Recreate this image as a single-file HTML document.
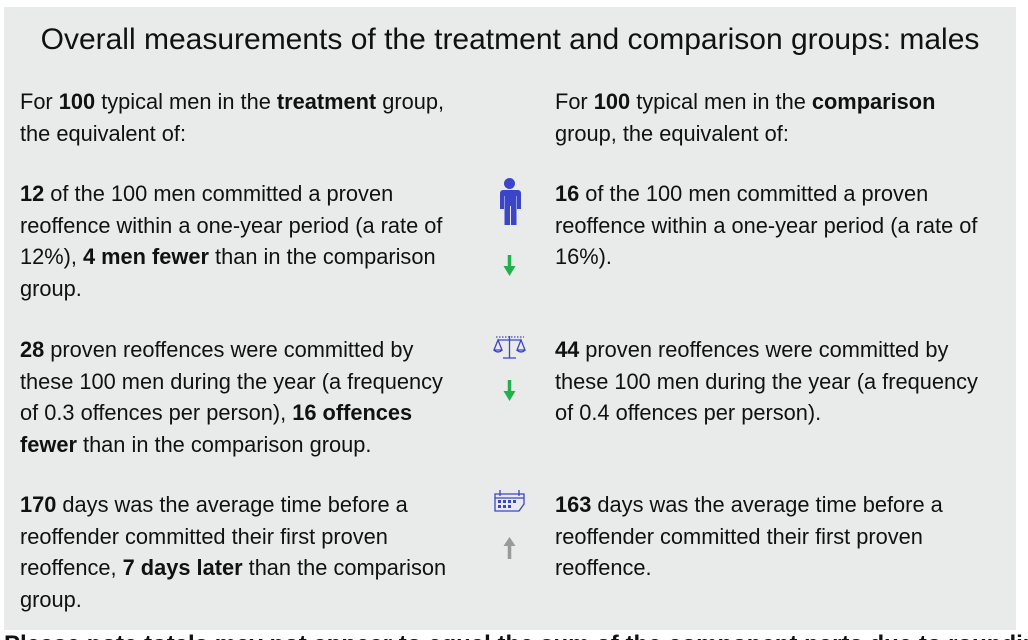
<!DOCTYPE html>
<html><head><style>
html,body{margin:0;width:1028px;height:640px;overflow:hidden}
body{background:#fff;font-family:"Liberation Sans",Arial,sans-serif;color:#111;position:relative}
.panel{position:absolute;left:4px;top:7px;width:1012px;height:623px;background:#e8ebea}
h1{position:absolute;left:4px;width:1012px;top:21px;margin:0;font-weight:normal;font-size:30px;text-align:center;line-height:38px;color:#111}
.t{position:absolute;font-size:21.8px;line-height:31.6px;width:434px}
b{font-weight:bold}
.ic{position:absolute}
.note{position:absolute;left:4px;top:631px;font-size:24px;font-weight:bold;white-space:nowrap;line-height:28px}
</style></head><body>
<div class="panel"></div>
<h1>Overall measurements of the treatment and comparison groups: males</h1>
<div class="t" style="left:20px;top:86px">For <b>100</b> typical men in the <b>treatment</b> group, the equivalent of:</div>
<div class="t" style="left:555px;top:86px;width:400px">For <b>100</b> typical men in the <b>comparison</b> group, the equivalent of:</div>
<div class="t" style="left:20px;top:178px"><b>12</b> of the 100 men committed a proven reoffence within a one-year period (a rate of 12%), <b>4 men fewer</b> than in the comparison group.</div>
<div class="t" style="left:555px;top:178px"><b>16</b> of the 100 men committed a proven reoffence within a one-year period (a rate of 16%).</div>
<div class="t" style="left:20px;top:334px"><b>28</b> proven reoffences were committed by these 100 men during the year (a frequency of 0.3 offences per person), <b>16 offences fewer</b> than in the comparison group.</div>
<div class="t" style="left:555px;top:334px"><b>44</b> proven reoffences were committed by these 100 men during the year (a frequency of 0.4 offences per person).</div>
<div class="t" style="left:20px;top:489px"><b>170</b> days was the average time before a reoffender committed their first proven reoffence, <b>7 days later</b> than the comparison group.</div>
<div class="t" style="left:555px;top:489px"><b>163</b> days was the average time before a reoffender committed their first proven reoffence.</div>
<svg class="ic" style="left:490px;top:175px" width="40" height="420" viewBox="0 0 40 420">
<g fill="#3b45c8">
<circle cx="19.5" cy="8.5" r="5.5"/>
<path d="M11 15h17a3 3 0 0 1 3 3v16h-4v-13h-0.5v29h-5.5v-19h-1v19h-5.5v-29h-0.5v13h-4v-16a3 3 0 0 1 3-3z"/>
</g>
<path d="M19.5 80v15" stroke="#22b04b" stroke-width="3.5"/><path d="M13.5 91l6 10l6-10z" fill="#22b04b"/>
<g stroke="#3b45c8" fill="none" stroke-width="1.3">
<path d="M6 162h28" stroke-dasharray="1.5 1.5"/>
<path d="M19.5 161v22M13 183h13M8 165h23M8 165l-4 10h8zM31 165l-4 10h8z"/>
<path d="M4 175q4 4 8 0M27 175q4 4 8 0"/>
</g>
<path d="M19.5 205v15" stroke="#22b04b" stroke-width="3.5"/><path d="M13.5 216l6 10l6-10z" fill="#22b04b"/>
<g stroke="#3b45c8" fill="none" stroke-width="1.3">
<path d="M5 319h29v10l-5 7h-24z"/><path d="M5 323h29"/><path d="M10 315v6M29 315v6"/>
</g>
<g fill="#3b45c8"><rect x="8" y="325" width="3" height="3"/><rect x="13" y="325" width="3" height="3"/><rect x="18" y="325" width="3" height="3"/><rect x="23" y="325" width="3" height="3"/><rect x="8" y="330" width="3" height="3"/><rect x="13" y="330" width="3" height="3"/><rect x="18" y="330" width="3" height="3"/></g>
<path d="M19.5 384v-15" stroke="#999" stroke-width="3.5"/><path d="M13.5 371l6-9l6 9z" fill="#999"/>
</svg>
<div class="note">Please note totals may not appear to equal the sum of the component parts due to rounding</div>
</body></html>
